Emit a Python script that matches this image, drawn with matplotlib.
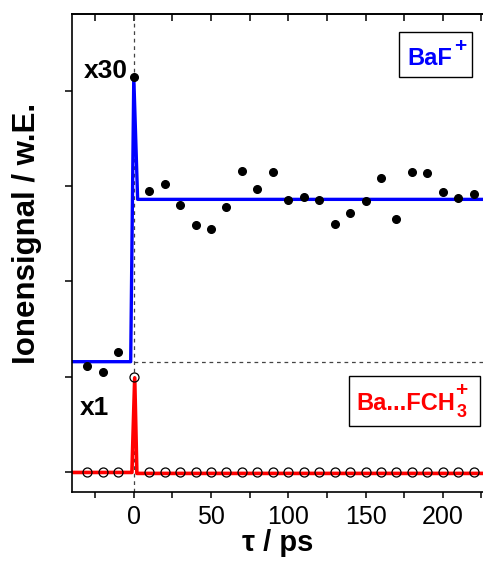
import numpy as np
import matplotlib
matplotlib.use("Agg")
import matplotlib.pyplot as plt
from matplotlib.patches import Rectangle

plt.rcParams['font.family'] = ['Liberation Sans', 'DejaVu Sans']

# BaF+ signal (x30, offset), filled dots
t_baf = [-30, -20, -10, 0, 10, 20, 30, 40, 50, 60, 70, 80, 90, 100, 110,
         120, 130, 140, 150, 160, 170, 180, 190, 200, 210, 220]
y_baf = [1.11, 1.05, 1.26, 4.14, 2.95, 3.02, 2.80, 2.59, 2.55, 2.78, 3.16,
         2.97, 3.15, 2.85, 2.89, 2.85, 2.60, 2.72, 2.84, 3.08, 2.65, 3.15,
         3.14, 2.94, 2.87, 2.92]

# Ba...FCH3+ signal (x1), open circles
t_bafch = [-30, -20, -10, 0, 10, 20, 30, 40, 50, 60, 70, 80, 90, 100, 110,
           120, 130, 140, 150, 160, 170, 180, 190, 200, 210, 220]
y_bafch = [0, 0, 0, 1.0, 0, 0, 0, 0, 0, 0, 0, 0, 0, 0, 0,
           0, 0, 0, 0, 0, 0, 0, 0, 0, 0, 0]

# fit curves
t_fit_baf = [-40, -2, 0, 2.5, 230]
y_fit_baf = [1.16, 1.16, 4.14, 2.86, 2.86]
t_fit_bafch = [-40, -1.2, 0.6, 2, 230]
y_fit_bafch = [0.0, 0.0, 0.99, -0.01, -0.01]

baf_offset = 1.16

fig = plt.figure(figsize=(4.83, 5.65), dpi=100)
ax = fig.add_axes([0.149, 0.13, 0.851, 0.845])

ax.axvline(0, color='#444444', lw=0.9, ls=(0, (3, 3)), zorder=1)
ax.plot([0, 230], [baf_offset, baf_offset], color='#444444', lw=0.9,
        ls=(0, (3, 3)), zorder=1)

ax.plot(t_fit_baf, y_fit_baf, color='#0000ff', lw=2.4, zorder=2)
ax.plot(t_fit_bafch, y_fit_bafch, color='#ff0000', lw=2.6, zorder=2)

ax.plot(t_baf, y_baf, 'o', color='black', ms=5.5, zorder=3)
ax.plot(t_bafch, y_bafch, 'o', mfc='none', mec='black', mew=0.9, ms=6.5,
        zorder=3)

ax.set_xlim(-40, 226)
ax.set_ylim(-0.2, 4.8)
ax.set_xticks([0, 50, 100, 150, 200])
ax.set_xticks([-25, 25, 75, 125, 175, 225], minor=True)
ax.set_yticks([0, 1, 2, 3, 4])
ax.set_yticklabels([])
ax.tick_params(axis='x', which='both', direction='out', length=4.5,
               width=1.1, labelsize=18, pad=5)
ax.tick_params(axis='y', direction='out', length=5, width=1.1)
ax.spines['right'].set_visible(False)
for s in ['left', 'bottom', 'top']:
    ax.spines[s].set_linewidth(1.2)

top = ax.secondary_xaxis('top')
top.set_xticks([-25, 0, 25, 50, 75, 100, 125, 150, 175, 200, 225])
top.set_xticklabels([])
top.tick_params(direction='in', length=5, width=1.1)
top.spines['top'].set_linewidth(1.2)

ax.set_xlabel('τ / ps', fontsize=21, fontweight='bold', labelpad=0)
ax.set_ylabel('Ionensignal / w.E.', fontsize=22.5, fontweight='bold')
ax.yaxis.set_label_coords(-0.073, 0.54)

ax.text(-4, 4.2, 'x30', fontsize=19, fontweight='bold', ha='right',
        va='center')
ax.text(-35, 0.68, 'x1', fontsize=19, fontweight='bold', ha='left',
        va='center')

# label boxes
tr = ax.transAxes
ax.add_patch(Rectangle((0.796, 0.868), 0.177, 0.094, transform=tr,
                       fc='white', ec='black', lw=1, zorder=4))
ax.text(0.816, 0.893, 'BaF', transform=tr, fontsize=17, fontweight='bold',
        color='#0000ff', ha='left', va='baseline', zorder=5)
ax.text(0.944, 0.932, '+', transform=tr, fontsize=15, fontweight='bold',
        color='#0000ff', ha='center', va='center', zorder=5)

ax.add_patch(Rectangle((0.675, 0.1375), 0.318, 0.1045, transform=tr,
                       fc='white', ec='black', lw=1, zorder=4))
ax.text(0.691, 0.171, 'Ba...FCH', transform=tr, fontsize=17,
        fontweight='bold', color='#ff0000', ha='left', va='baseline',
        zorder=5)
ax.text(0.948, 0.165, '3', transform=tr, fontsize=13, fontweight='bold',
        color='#ff0000', ha='center', va='center', zorder=5)
ax.text(0.948, 0.212, '+', transform=tr, fontsize=15, fontweight='bold',
        color='#ff0000', ha='center', va='center', zorder=5)

fig.savefig('out.png', dpi=100)
